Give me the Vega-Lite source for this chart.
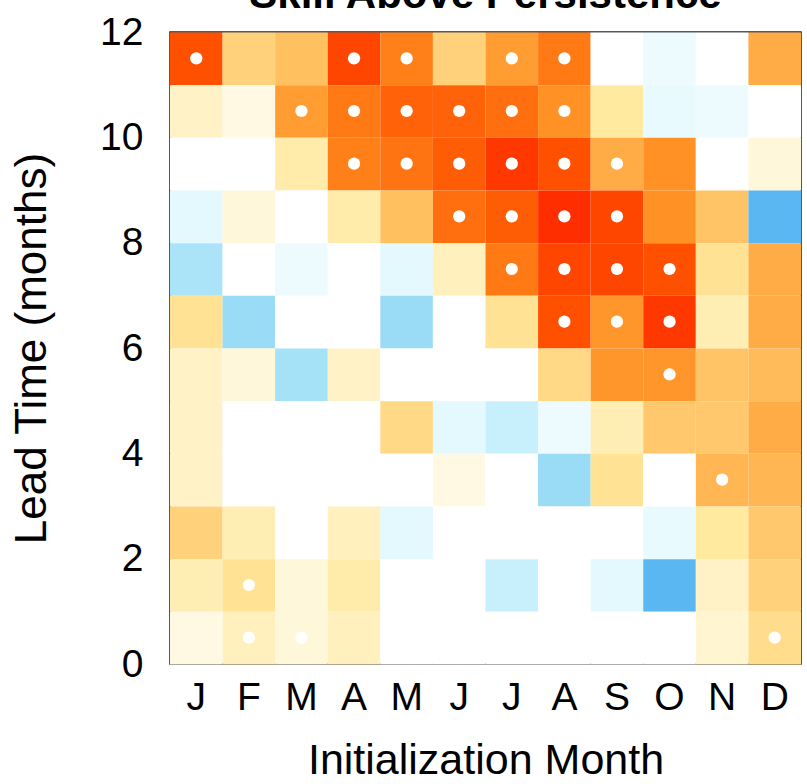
{
  "$schema": "https://vega.github.io/schema/vega-lite/v6.json",
  "autosize": "none",
  "width": 631,
  "height": 632,
  "padding": {"left": 170, "top": 32, "right": 6, "bottom": 120},
  "background": "white",
  "config": {
    "font": "Liberation Sans",
    "view": {"stroke": "#222222", "strokeWidth": 1.5},
    "axis": {"labelColor": "#000000", "titleColor": "#000000", "titleFontWeight": "normal", "grid": false, "ticks": false, "domain": false}
  },
  "title": {"text": "Skill Above Persistence", "fontSize": 42, "fontWeight": "bold", "anchor": "middle", "frame": "group", "baseline": "alphabetic", "offset": 0, "dy": 37, "color": "#000000"},
  "data": {"values": [
    {"m":1,"lo":11,"hi":12,"v":0.40,"s":1},{"m":2,"lo":11,"hi":12,"v":0.16,"s":0},{"m":3,"lo":11,"hi":12,"v":0.20,"s":0},{"m":4,"lo":11,"hi":12,"v":0.42,"s":1},{"m":5,"lo":11,"hi":12,"v":0.32,"s":1},{"m":6,"lo":11,"hi":12,"v":0.16,"s":0},{"m":7,"lo":11,"hi":12,"v":0.27,"s":1},{"m":8,"lo":11,"hi":12,"v":0.33,"s":1},{"m":9,"lo":11,"hi":12,"v":0,"s":0},{"m":10,"lo":11,"hi":12,"v":-0.04,"s":0},{"m":11,"lo":11,"hi":12,"v":0,"s":0},{"m":12,"lo":11,"hi":12,"v":0.24,"s":0},
    {"m":1,"lo":10,"hi":11,"v":0.06,"s":0},{"m":2,"lo":10,"hi":11,"v":0.03,"s":0},{"m":3,"lo":10,"hi":11,"v":0.27,"s":1},{"m":4,"lo":10,"hi":11,"v":0.33,"s":1},{"m":5,"lo":10,"hi":11,"v":0.37,"s":1},{"m":6,"lo":10,"hi":11,"v":0.37,"s":1},{"m":7,"lo":10,"hi":11,"v":0.35,"s":1},{"m":8,"lo":10,"hi":11,"v":0.29,"s":1},{"m":9,"lo":10,"hi":11,"v":0.10,"s":0},{"m":10,"lo":10,"hi":11,"v":-0.05,"s":0},{"m":11,"lo":10,"hi":11,"v":-0.04,"s":0},{"m":12,"lo":10,"hi":11,"v":0,"s":0},
    {"m":1,"lo":9,"hi":10,"v":0,"s":0},{"m":2,"lo":9,"hi":10,"v":0,"s":0},{"m":3,"lo":9,"hi":10,"v":0.09,"s":0},{"m":4,"lo":9,"hi":10,"v":0.32,"s":1},{"m":5,"lo":9,"hi":10,"v":0.34,"s":1},{"m":6,"lo":9,"hi":10,"v":0.38,"s":1},{"m":7,"lo":9,"hi":10,"v":0.45,"s":1},{"m":8,"lo":9,"hi":10,"v":0.40,"s":1},{"m":9,"lo":9,"hi":10,"v":0.24,"s":1},{"m":10,"lo":9,"hi":10,"v":0.29,"s":0},{"m":11,"lo":9,"hi":10,"v":0,"s":0},{"m":12,"lo":9,"hi":10,"v":0.04,"s":0},
    {"m":1,"lo":8,"hi":9,"v":-0.06,"s":0},{"m":2,"lo":8,"hi":9,"v":0.04,"s":0},{"m":3,"lo":8,"hi":9,"v":0,"s":0},{"m":4,"lo":8,"hi":9,"v":0.09,"s":0},{"m":5,"lo":8,"hi":9,"v":0.20,"s":0},{"m":6,"lo":8,"hi":9,"v":0.35,"s":1},{"m":7,"lo":8,"hi":9,"v":0.38,"s":1},{"m":8,"lo":8,"hi":9,"v":0.47,"s":1},{"m":9,"lo":8,"hi":9,"v":0.42,"s":1},{"m":10,"lo":8,"hi":9,"v":0.29,"s":0},{"m":11,"lo":8,"hi":9,"v":0.19,"s":0},{"m":12,"lo":8,"hi":9,"v":-0.28,"s":0},
    {"m":1,"lo":7,"hi":8,"v":-0.17,"s":0},{"m":2,"lo":7,"hi":8,"v":0,"s":0},{"m":3,"lo":7,"hi":8,"v":-0.04,"s":0},{"m":4,"lo":7,"hi":8,"v":0,"s":0},{"m":5,"lo":7,"hi":8,"v":-0.06,"s":0},{"m":6,"lo":7,"hi":8,"v":0.07,"s":0},{"m":7,"lo":7,"hi":8,"v":0.33,"s":1},{"m":8,"lo":7,"hi":8,"v":0.42,"s":1},{"m":9,"lo":7,"hi":8,"v":0.42,"s":1},{"m":10,"lo":7,"hi":8,"v":0.40,"s":1},{"m":11,"lo":7,"hi":8,"v":0.12,"s":0},{"m":12,"lo":7,"hi":8,"v":0.24,"s":0},
    {"m":1,"lo":6,"hi":7,"v":0.12,"s":0},{"m":2,"lo":6,"hi":7,"v":-0.20,"s":0},{"m":3,"lo":6,"hi":7,"v":0,"s":0},{"m":4,"lo":6,"hi":7,"v":0,"s":0},{"m":5,"lo":6,"hi":7,"v":-0.20,"s":0},{"m":6,"lo":6,"hi":7,"v":0,"s":0},{"m":7,"lo":6,"hi":7,"v":0.12,"s":0},{"m":8,"lo":6,"hi":7,"v":0.40,"s":1},{"m":9,"lo":6,"hi":7,"v":0.28,"s":1},{"m":10,"lo":6,"hi":7,"v":0.45,"s":1},{"m":11,"lo":6,"hi":7,"v":0.08,"s":0},{"m":12,"lo":6,"hi":7,"v":0.24,"s":0},
    {"m":1,"lo":5,"hi":6,"v":0.06,"s":0},{"m":2,"lo":5,"hi":6,"v":0.04,"s":0},{"m":3,"lo":5,"hi":6,"v":-0.18,"s":0},{"m":4,"lo":5,"hi":6,"v":0.06,"s":0},{"m":5,"lo":5,"hi":6,"v":0,"s":0},{"m":6,"lo":5,"hi":6,"v":0,"s":0},{"m":7,"lo":5,"hi":6,"v":0,"s":0},{"m":8,"lo":5,"hi":6,"v":0.14,"s":0},{"m":9,"lo":5,"hi":6,"v":0.28,"s":0},{"m":10,"lo":5,"hi":6,"v":0.28,"s":1},{"m":11,"lo":5,"hi":6,"v":0.19,"s":0},{"m":12,"lo":5,"hi":6,"v":0.21,"s":0},
    {"m":1,"lo":4,"hi":5,"v":0.06,"s":0},{"m":2,"lo":4,"hi":5,"v":0,"s":0},{"m":3,"lo":4,"hi":5,"v":0,"s":0},{"m":4,"lo":4,"hi":5,"v":0,"s":0},{"m":5,"lo":4,"hi":5,"v":0.14,"s":0},{"m":6,"lo":4,"hi":5,"v":-0.06,"s":0},{"m":7,"lo":4,"hi":5,"v":-0.12,"s":0},{"m":8,"lo":4,"hi":5,"v":-0.04,"s":0},{"m":9,"lo":4,"hi":5,"v":0.08,"s":0},{"m":10,"lo":4,"hi":5,"v":0.18,"s":0},{"m":11,"lo":4,"hi":5,"v":0.18,"s":0},{"m":12,"lo":4,"hi":5,"v":0.24,"s":0},
    {"m":1,"lo":3,"hi":4,"v":0.06,"s":0},{"m":2,"lo":3,"hi":4,"v":0,"s":0},{"m":3,"lo":3,"hi":4,"v":0,"s":0},{"m":4,"lo":3,"hi":4,"v":0,"s":0},{"m":5,"lo":3,"hi":4,"v":0,"s":0},{"m":6,"lo":3,"hi":4,"v":0.03,"s":0},{"m":7,"lo":3,"hi":4,"v":0,"s":0},{"m":8,"lo":3,"hi":4,"v":-0.20,"s":0},{"m":9,"lo":3,"hi":4,"v":0.12,"s":0},{"m":10,"lo":3,"hi":4,"v":0,"s":0},{"m":11,"lo":3,"hi":4,"v":0.22,"s":1},{"m":12,"lo":3,"hi":4,"v":0.22,"s":0},
    {"m":1,"lo":2,"hi":3,"v":0.16,"s":0},{"m":2,"lo":2,"hi":3,"v":0.08,"s":0},{"m":3,"lo":2,"hi":3,"v":0,"s":0},{"m":4,"lo":2,"hi":3,"v":0.07,"s":0},{"m":5,"lo":2,"hi":3,"v":-0.06,"s":0},{"m":6,"lo":2,"hi":3,"v":0,"s":0},{"m":7,"lo":2,"hi":3,"v":0,"s":0},{"m":8,"lo":2,"hi":3,"v":0,"s":0},{"m":9,"lo":2,"hi":3,"v":0,"s":0},{"m":10,"lo":2,"hi":3,"v":-0.05,"s":0},{"m":11,"lo":2,"hi":3,"v":0.10,"s":0},{"m":12,"lo":2,"hi":3,"v":0.18,"s":0},
    {"m":1,"lo":1,"hi":2,"v":0.08,"s":0},{"m":2,"lo":1,"hi":2,"v":0.12,"s":1},{"m":3,"lo":1,"hi":2,"v":0.04,"s":0},{"m":4,"lo":1,"hi":2,"v":0.09,"s":0},{"m":5,"lo":1,"hi":2,"v":0,"s":0},{"m":6,"lo":1,"hi":2,"v":0,"s":0},{"m":7,"lo":1,"hi":2,"v":-0.12,"s":0},{"m":8,"lo":1,"hi":2,"v":0,"s":0},{"m":9,"lo":1,"hi":2,"v":-0.06,"s":0},{"m":10,"lo":1,"hi":2,"v":-0.28,"s":0},{"m":11,"lo":1,"hi":2,"v":0.06,"s":0},{"m":12,"lo":1,"hi":2,"v":0.16,"s":0},
    {"m":1,"lo":0,"hi":1,"v":0.03,"s":0},{"m":2,"lo":0,"hi":1,"v":0.07,"s":1},{"m":3,"lo":0,"hi":1,"v":0.04,"s":1},{"m":4,"lo":0,"hi":1,"v":0.07,"s":0},{"m":5,"lo":0,"hi":1,"v":0,"s":0},{"m":6,"lo":0,"hi":1,"v":0,"s":0},{"m":7,"lo":0,"hi":1,"v":0,"s":0},{"m":8,"lo":0,"hi":1,"v":0,"s":0},{"m":9,"lo":0,"hi":1,"v":0,"s":0},{"m":10,"lo":0,"hi":1,"v":0,"s":0},{"m":11,"lo":0,"hi":1,"v":0.05,"s":0},{"m":12,"lo":0,"hi":1,"v":0.13,"s":1}
  ]},
  "encoding": {
    "x": {"field": "m", "type": "ordinal", "scale": {"paddingInner": 0, "paddingOuter": 0},
      "axis": {"title": "Initialization Month", "labelAngle": 0, "labelFontSize": 39, "labelPadding": 14, "titleFontSize": 43, "titlePadding": 22,
        "labelExpr": "['J','F','M','A','M','J','J','A','S','O','N','D'][datum.value-1]"}},
    "y": {"field": "lo", "type": "quantitative", "bin": {"binned": true},
      "scale": {"domain": [0, 12], "nice": false, "zero": false},
      "axis": {"title": "Lead Time (months)", "values": [0, 2, 4, 6, 8, 10, 12], "labelFontSize": 39, "labelPadding": 27, "labelFlush": false, "labelBaseline": "middle", "titleFontSize": 44, "titlePadding": 45, "format": "d"}},
    "y2": {"field": "hi"}
  },
  "layer": [
    {"mark": {"type": "rect", "strokeWidth": 0},
     "encoding": {"color": {"field": "v", "type": "quantitative", "legend": null,
        "scale": {"type": "linear", "zero": false, "nice": false, "interpolate": "rgb",
                  "domain": [-0.3, -0.2, -0.1, 0, 0.1, 0.2, 0.3, 0.4, 0.5],
                  "range": ["#4aaef0", "#9adcf6", "#d2f5fd", "#ffffff", "#ffeaa0", "#ffc060", "#ff8c1e", "#ff5000", "#ff2000"]}}}},
    {"transform": [{"filter": "datum.s == 1"}],
     "mark": {"type": "circle", "color": "#ffffff", "opacity": 1, "size": 150}}
  ]
}
